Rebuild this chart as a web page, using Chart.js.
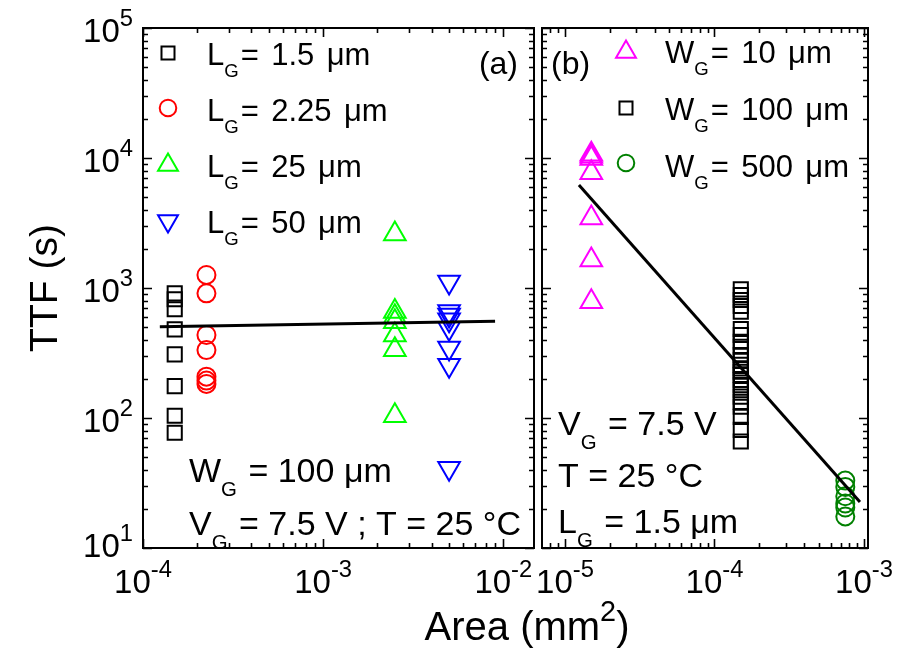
<!DOCTYPE html>
<html>
<head>
<meta charset="utf-8">
<script src="https://cdn.jsdelivr.net/npm/chart.js@4.4.1/dist/chart.umd.min.js"></script>
<style>
  body { margin: 0; background: #fff; }
  #wrap { position: relative; width: 905px; height: 652px; }
  #wrap canvas { position: absolute; left: 0; top: 0; }
</style>
</head>
<body>
<div id="wrap">
  <canvas id="panelA" width="905" height="652"></canvas>
  <canvas id="panelB" width="905" height="652"></canvas>
</div>
<script>
// ---- panel (a): W_G = 100 um, varying gate length ----
const lgLabels = ['1.5', '2.25', '25', '50'];
const lgArea = [1.5e-4, 2.25e-4, 2.5e-3, 5e-3];          // mm^2
const ttfLg15 = [910, 820, 686, 481, 309, 176, 104, 77];
const ttfLg225 = [1260, 910, 435, 333, 208, 194, 183];
const ttfLg25 = [2600, 660, 600, 550, 435, 335, 104];
const ttfLg50 = [1110, 660, 620, 570, 490, 345, 255, 41];
const fitAx = [1.24e-4, 9.0e-3];
const fitAy = [504, 556];

// ---- panel (b): L_G = 1.5 um, varying gate width ----
const wgLabels = ['10', '100', '500'];
const wgArea = [1.5e-5, 1.5e-4, 7.5e-4];
const ttfWg10 = [10700, 10300, 9900, 7700, 3450, 1640, 785];
const ttfWg100 = [977, 883, 809, 727, 658, 484, 435, 386, 353, 305, 279, 256, 241,
                  227, 214, 196, 179, 164, 146, 133, 122, 102, 81, 66];
const ttfWg500 = [33, 29.5, 25, 22, 20.5, 17.5];
const fitBx = [1.24e-5, 9.4e-4];
const fitBy = [6200, 22.6];

// axis decades used for the tick labels
const yDecades = [1, 2, 3, 4, 5];
const xDecadesA = [-4, -3, -2];
const xDecadesB = [-5, -4, -3];

const FONT = '"Liberation Sans", Arial, Helvetica, sans-serif';

const styles = {
  square: { pointStyle: 'rect', radius: 10, rotation: 0 },
  circle: { pointStyle: 'circle', radius: 9, rotation: 0 },
  up: { pointStyle: 'triangle', radius: 12.5, rotation: 0 },
  down: { pointStyle: 'triangle', radius: 12.5, rotation: 180 }
};

function points(area, values) {
  return values.map(v => ({ x: area, y: v }));
}

function markerSet(area, values, color, style) {
  const s = styles[style];
  return {
    data: points(area, values),
    borderColor: color,
    backgroundColor: 'rgba(0,0,0,0)',
    borderWidth: 2,
    pointStyle: s.pointStyle,
    pointRadius: s.radius,
    pointRotation: s.rotation,
    showLine: false
  };
}

function fitSet(xs, ys) {
  return {
    data: xs.map((x, i) => ({ x: x, y: ys[i] })),
    showLine: true,
    borderColor: '#000',
    borderWidth: 3,
    pointRadius: 0,
    fill: false
  };
}

// text made of pieces, some of them sub- or superscripts;
// spaces are drawn with a fixed width (space em)
function drawRich(ctx, parts, x, y, size, align, spaceEm) {
  const sp = size * (spaceEm || 0.278);
  const fontOf = p => (p[1] === 'sub' ? size * 0.6 : p[1] === 'sup' ? size * 0.72 : size) + 'px ' + FONT;
  const widthOf = p => {
    ctx.font = fontOf(p);
    const words = p[0].split(' ');
    let w = 0;
    words.forEach((wd, i) => { w += ctx.measureText(wd).width + (i < words.length - 1 ? sp : 0); });
    return w + (p[1] === 'sub' ? 2 : 0);
  };
  let total = 0;
  parts.forEach(p => { total += widthOf(p); });
  let cx = x;
  if (align === 'center') cx = x - total / 2;
  if (align === 'right') cx = x - total;
  ctx.textAlign = 'left';
  ctx.textBaseline = 'alphabetic';
  parts.forEach(p => {
    ctx.font = fontOf(p);
    const dy = p[1] === 'sub' ? size * 0.4 : p[1] === 'sup' ? -size * 0.47 : 0;
    const words = p[0].split(' ');
    let wx = cx;
    words.forEach(wd => {
      ctx.fillText(wd, wx, y + dy);
      wx += ctx.measureText(wd).width + sp;
    });
    cx += widthOf(p);
  });
}

function logTicks(min, max) {
  const out = [];
  for (let e = Math.floor(Math.log10(min)); e <= Math.ceil(Math.log10(max)); e++) {
    for (let m = 1; m < 10; m++) {
      const v = m * Math.pow(10, e);
      if (v >= min * 0.999 && v <= max * 1.001) out.push({ v: v, major: m === 1 });
    }
  }
  return out;
}

// frame with inward ticks on all four sides, tick labels, legend and notes
function panelPlugin(cfg) {
  return {
    id: 'panelDecor',
    afterDraw(chart) {
      const ctx = chart.ctx;
      const a = chart.chartArea;
      const xs = chart.scales.x, ys = chart.scales.y;
      ctx.save();
      ctx.strokeStyle = '#000';
      ctx.fillStyle = '#000';
      ctx.lineWidth = 1.6;
      ctx.beginPath();
      logTicks(ys.min, ys.max).forEach(t => {
        const py = Math.round(ys.getPixelForValue(t.v)) + 0.5;
        const len = t.major ? 9 : 5;
        ctx.moveTo(a.left, py); ctx.lineTo(a.left + len, py);
        ctx.moveTo(a.right, py); ctx.lineTo(a.right - len, py);
      });
      logTicks(xs.min, xs.max).forEach(t => {
        const px = Math.round(xs.getPixelForValue(t.v)) + 0.5;
        const len = t.major ? 9 : 5;
        ctx.moveTo(px, a.bottom); ctx.lineTo(px, a.bottom - len);
        ctx.moveTo(px, a.top); ctx.lineTo(px, a.top + len);
      });
      ctx.stroke();
      ctx.lineWidth = 2;
      ctx.strokeRect(a.left, a.top, a.right - a.left, a.bottom - a.top);

      // x tick labels
      cfg.xDecades.forEach(d => {
        const px = xs.getPixelForValue(Math.pow(10, d));
        drawRich(ctx, [['10'], [String(d), 'sup']], px, 593, 33, 'center');
      });
      // y tick labels and title, left panel only
      if (cfg.yLabels) {
        yDecades.forEach(d => {
          const py = ys.getPixelForValue(Math.pow(10, d));
          const off = d === 1 ? 9 : 14;
          drawRich(ctx, [['10'], [String(d), 'sup']], 133, py + off, 33, 'right');
        });
        ctx.save();
        ctx.translate(57, 288);
        ctx.rotate(-Math.PI / 2);
        ctx.font = '39px ' + FONT;
        ctx.textAlign = 'center';
        ctx.textBaseline = 'alphabetic';
        ctx.fillText('TTF (s)', 0, 0);
        ctx.restore();
      }
      if (cfg.xTitle) {
        drawRich(ctx, [['Area (mm'], ['2', 'sup'], [')']], 527, 640, 40, 'center');
      }

      // legend
      cfg.legend.forEach(item => {
        const s = styles[item.style];
        ctx.strokeStyle = item.color;
        ctx.fillStyle = 'rgba(0,0,0,0)';
        Chart.helpers.drawPoint(ctx, {
          pointStyle: s.pointStyle, radius: s.radius * 0.92,
          rotation: s.rotation, borderWidth: 2
        }, cfg.legendX, item.my);
        ctx.fillStyle = '#000';
        drawRich(ctx, [[item.sym], ['G', 'sub'], ['= ' + item.text + ' \u03bcm']],
                 cfg.legendX + 39, item.by, 31, 'left', 0.4);
      });

      // panel tag
      ctx.font = '32px ' + FONT;
      ctx.textBaseline = 'alphabetic';
      ctx.textAlign = cfg.tag.align;
      ctx.fillText(cfg.tag.text, cfg.tag.x, 74);

      // condition notes
      cfg.notes.forEach(n => drawRich(ctx, n.parts, n.x, n.y, 34, 'left'));
      ctx.restore();
    }
  };
}

function baseOptions(pad, xmin, xmax) {
  return {
    responsive: false,
    animation: false,
    events: [],
    devicePixelRatio: 1,
    layout: { padding: pad, autoPadding: false },
    plugins: { legend: { display: false }, tooltip: { enabled: false } },
    scales: {
      x: { type: 'logarithmic', min: xmin, max: xmax, display: false },
      y: { type: 'logarithmic', min: 10, max: 1e5, display: false }
    }
  };
}

new Chart(document.getElementById('panelA'), {
  type: 'scatter',
  data: {
    datasets: [
      fitSet(fitAx, fitAy),
      markerSet(lgArea[0], ttfLg15, '#000000', 'square'),
      markerSet(lgArea[1], ttfLg225, '#ff0000', 'circle'),
      markerSet(lgArea[2], ttfLg25, '#00ff00', 'up'),
      markerSet(lgArea[3], ttfLg50, '#0000ff', 'down')
    ]
  },
  options: baseOptions({ left: 143, top: 28, right: 905 - 534, bottom: 652 - 548 }, 1e-4, 1.48e-2),
  plugins: [panelPlugin({
    xDecades: xDecadesA,
    yLabels: true,
    xTitle: true,
    legendX: 168,
    legend: [
      { sym: 'L', text: lgLabels[0], color: '#000000', style: 'square', my: 53, by: 65 },
      { sym: 'L', text: lgLabels[1], color: '#ff0000', style: 'circle', my: 108, by: 121 },
      { sym: 'L', text: lgLabels[2], color: '#00ff00', style: 'up', my: 165, by: 177 },
      { sym: 'L', text: lgLabels[3], color: '#0000ff', style: 'down', my: 221, by: 233 }
    ],
    tag: { text: '(a)', x: 518, align: 'right' },
    notes: [
      { parts: [['W'], ['G', 'sub'], [' = 100 \u03bcm']], x: 189, y: 482 },
      { parts: [['V'], ['G', 'sub'], [' = 7.5 V ; T = 25 \u00b0C']], x: 189, y: 535 }
    ]
  })]
});

new Chart(document.getElementById('panelB'), {
  type: 'scatter',
  data: {
    datasets: [
      fitSet(fitBx, fitBy),
      markerSet(wgArea[0], ttfWg10, '#ff00ff', 'up'),
      markerSet(wgArea[1], ttfWg100, '#000000', 'square'),
      markerSet(wgArea[2], ttfWg500, '#008000', 'circle')
    ]
  },
  options: baseOptions({ left: 542, top: 28, right: 905 - 868, bottom: 652 - 548 }, 7.02e-6, 1.064e-3),
  plugins: [panelPlugin({
    xDecades: xDecadesB,
    yLabels: false,
    xTitle: false,
    legendX: 626,
    legend: [
      { sym: 'W', text: wgLabels[0], color: '#ff00ff', style: 'up', my: 52, by: 63 },
      { sym: 'W', text: wgLabels[1], color: '#000000', style: 'square', my: 108, by: 120 },
      { sym: 'W', text: wgLabels[2], color: '#008000', style: 'circle', my: 163, by: 177 }
    ],
    tag: { text: '(b)', x: 551, align: 'left' },
    notes: [
      { parts: [['V'], ['G', 'sub'], [' = 7.5 V']], x: 558, y: 435 },
      { parts: [['T = 25 \u00b0C']], x: 558, y: 487 },
      { parts: [['L'], ['G', 'sub'], [' = 1.5 \u03bcm']], x: 558, y: 533 }
    ]
  })]
});
</script>
</body>
</html>
